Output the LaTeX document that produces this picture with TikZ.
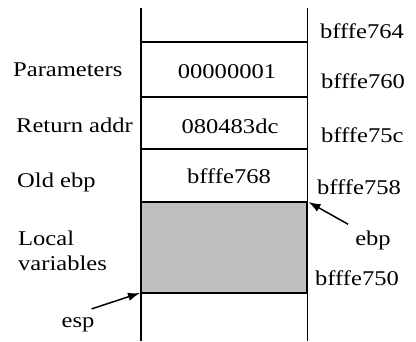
\documentclass[tikz,border=0pt]{standalone}
\usepackage{fontspec}
\setmainfont{Liberation Serif}
\usetikzlibrary{arrows.meta}
\newcommand{\wtxt}[1]{\scalebox{1.17}[1]{#1}}
\begin{document}
\begin{tikzpicture}[x=1pt,y=-1pt,
  lbl/.style={inner sep=0pt,font=\fontsize{21}{24}\selectfont},
  stackline/.style={line width=1.4pt},
  ptr/.style={line width=1.5pt,-{Latex[length=12pt,width=8.5pt]}}]
\useasboundingbox (0,0) rectangle (416,341);
% frame of the current stack frame
\fill[fill=black!25] (141,202) rectangle (307.5,293);
\draw[stackline] (141,8) -- (141,341);
\draw[stackline] (307.5,8) -- (307.5,341);
\foreach \yy in {42,97,149,202,293}
  \draw[stackline] (141,\yy) -- (307.5,\yy);
\draw[line width=2.6pt] (306.8,202) -- (306.8,293);
\coordinate (ebpTop) at (308.5,202);
\coordinate (espTop) at (140,293);
% cell contents
\node[lbl,anchor=base] (c1) at (227,78) {\wtxt{00000001}};
\node[lbl,anchor=base] (c2) at (230,133) {\wtxt{080483dc}};
\node[lbl,anchor=base] (c3) at (229,183) {\wtxt{bfffe768}};
% addresses
\node[lbl,anchor=base west] (a1) at (320,38) {\wtxt{bfffe764}};
\node[lbl,anchor=base west] (a2) at (321,88) {\wtxt{bfffe760}};
\node[lbl,anchor=base west] (a3) at (321,142) {\wtxt{bfffe75c}};
\node[lbl,anchor=base west] (a4) at (317,194) {\wtxt{bfffe758}};
\node[lbl,anchor=base west] (a5) at (315,285) {\wtxt{bfffe750}};
% descriptions
\node[lbl,anchor=base west] (d1) at (13,76) {\wtxt{Parameters}};
\node[lbl,anchor=base west] (d2) at (16,132) {\wtxt{Return addr}};
\node[lbl,anchor=base west] (d3) at (17,187) {\wtxt{Old ebp}};
\node[lbl,anchor=base west] (d4) at (18,245) {\wtxt{Local}};
\node[lbl,anchor=base west] (d5) at (18,270) {\wtxt{variables}};
% register pointers
\node[lbl,anchor=base] (ebp) at (373,245) {\wtxt{ebp}};
\node[lbl,anchor=base] (esp) at (78,327) {\wtxt{esp}};
\draw[ptr] (ebp.north west) ++(-7,-6) coordinate (ebpTail) -- (ebpTop);
\draw[ptr] (esp.north east) ++(-3,-8) coordinate (espTail) -- (espTop);
\end{tikzpicture}
\end{document}
